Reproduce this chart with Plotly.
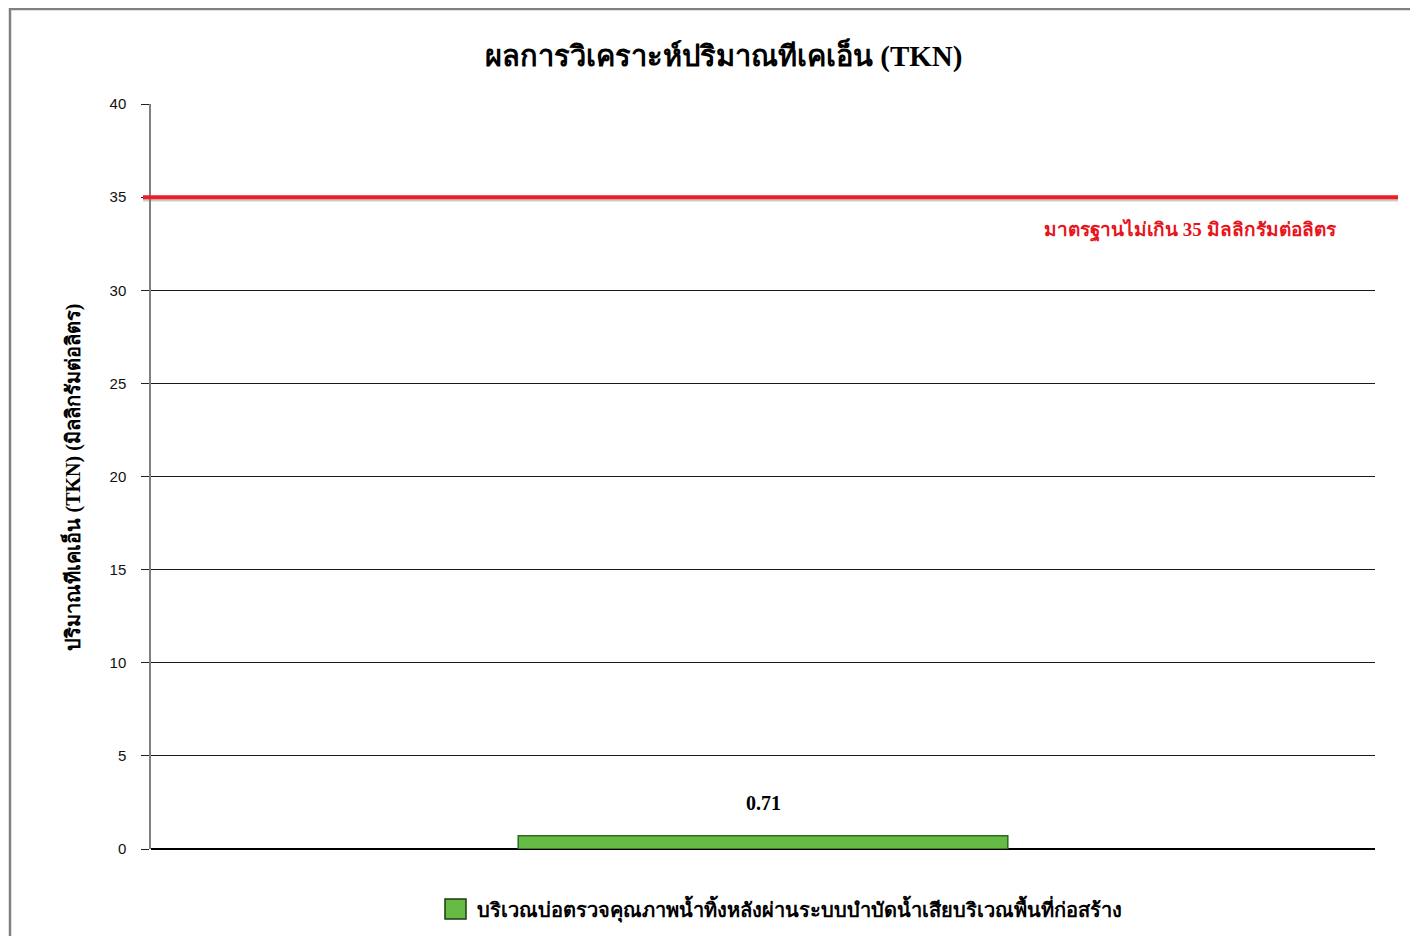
import plotly.graph_objects as go

categories = ["บริเวณบ่อตรวจคุณภาพน้ำทิ้งหลังผ่านระบบบำบัดน้ำเสียบริเวณพื้นที่ก่อสร้าง"]
values = [0.71]
standard = 35
y_ticks = [0, 5, 10, 15, 20, 25, 30, 35, 40]

title_text = "ผลการวิเคราะห์ปริมาณทีเคเอ็น (TKN)"
y_title = "ปริมาณทีเคเอ็น (TKN) (มิลลิกรัมต่อลิตร)"
std_label = "มาตรฐานไม่เกิน 35 มิลลิกรัมต่อลิตร"

SERIF = "Liberation Serif, Times New Roman, serif"
SANS = "Liberation Sans, Arial, sans-serif"

W, H = 1410, 928
L, R, T, B = 143, 43, 96, 87
PW, PH = W - L - R, H - T - B  # 1224 x 745

BAR_COLOR = "#66bb44"

fig = go.Figure()
fig.add_trace(go.Bar(
    x=[0], y=values, name=categories[0], width=0.4,
    marker=dict(color=BAR_COLOR, line=dict(color="#2e6b1e", width=1.5)),
    showlegend=False,
))

fig.update_layout(
    width=W, height=H,
    paper_bgcolor="white", plot_bgcolor="white",
    margin=dict(l=L, r=R, t=T, b=B),
    xaxis=dict(range=[-0.5, 0.5], showticklabels=False, showgrid=False, zeroline=False,
               showline=False, ticks=""),
    yaxis=dict(range=[0, 40], tickvals=y_ticks, ticks="outside", ticklen=8, tickcolor="#222",
               showgrid=True, gridcolor="#1a1a1a", gridwidth=1.2, zeroline=True, zerolinecolor="black",
               zerolinewidth=1.5,
               showline=True, linecolor="#808080", linewidth=1.5,
               ticklabelstandoff=12,
               tickfont=dict(family=SANS, size=15, color="#111")),
    showlegend=False,
)

# title
fig.add_annotation(xref="paper", yref="paper", x=(715 - L) / PW, y=(H - B - 47) / PH,
                   text=f"<b>{title_text}</b>", showarrow=False, xanchor="center", yanchor="middle",
                   font=dict(family=SERIF, size=29, color="black"))

# y axis title
fig.add_annotation(xref="paper", yref="paper", x=(64 - L) / PW, y=0.5, textangle=-90,
                   text=f"<b>{y_title}</b>", showarrow=False, xanchor="center", yanchor="middle",
                   font=dict(family=SERIF, size=20, color="black"))

# standard line shadow + line
fig.add_shape(type="line", xref="paper", yref="y", x0=-8 / PW, x1=1247 / PW,
              y0=standard - 0.13, y1=standard - 0.13,
              line=dict(color="rgba(110,110,110,0.35)", width=4))
fig.add_shape(type="line", xref="paper", yref="y", x0=-8 / PW, x1=1247 / PW, y0=standard, y1=standard,
              line=dict(color="#ee1c25", width=4))

fig.add_annotation(x=(1182 - L) / PW, xref="paper", xanchor="center", y=standard, yref="y", yshift=-33,
                   text=f"<b>{std_label}</b>", showarrow=False,
                   font=dict(family=SERIF, size=19, color="#e8141c"))

# data label
fig.add_annotation(x=0, y=values[0], text=f"<b>{values[0]:.2f}</b>", showarrow=False, yshift=33,
                   font=dict(family=SERIF, size=20, color="black"))

# legend (custom, to match large square marker)
lx0, lx1, ly0, ly1 = 437, 458, 891, 911
fig.add_shape(type="rect", xref="paper", yref="paper",
              x0=(lx0 - L) / PW, x1=(lx1 - L) / PW, y0=(H - B - ly1) / PH, y1=(H - B - ly0) / PH,
              line=dict(color="#1e3a10", width=1.5), fillcolor=BAR_COLOR)
fig.add_annotation(xref="paper", yref="paper", x=(467 - L) / PW, y=(H - B - 901) / PH,
                   xanchor="left", yanchor="middle", showarrow=False,
                   text=f"<b>{categories[0]}</b>",
                   font=dict(family=SERIF, size=20, color="black"))

# outer chart border
fig.add_shape(type="rect", xref="paper", yref="paper",
              x0=-141 / PW, x1=1420 / PW, y0=-100 / PH, y1=(H - B - 1) / PH,
              line=dict(color="#808080", width=2.5), fillcolor="rgba(0,0,0,0)")

fig.write_html("out.html")
